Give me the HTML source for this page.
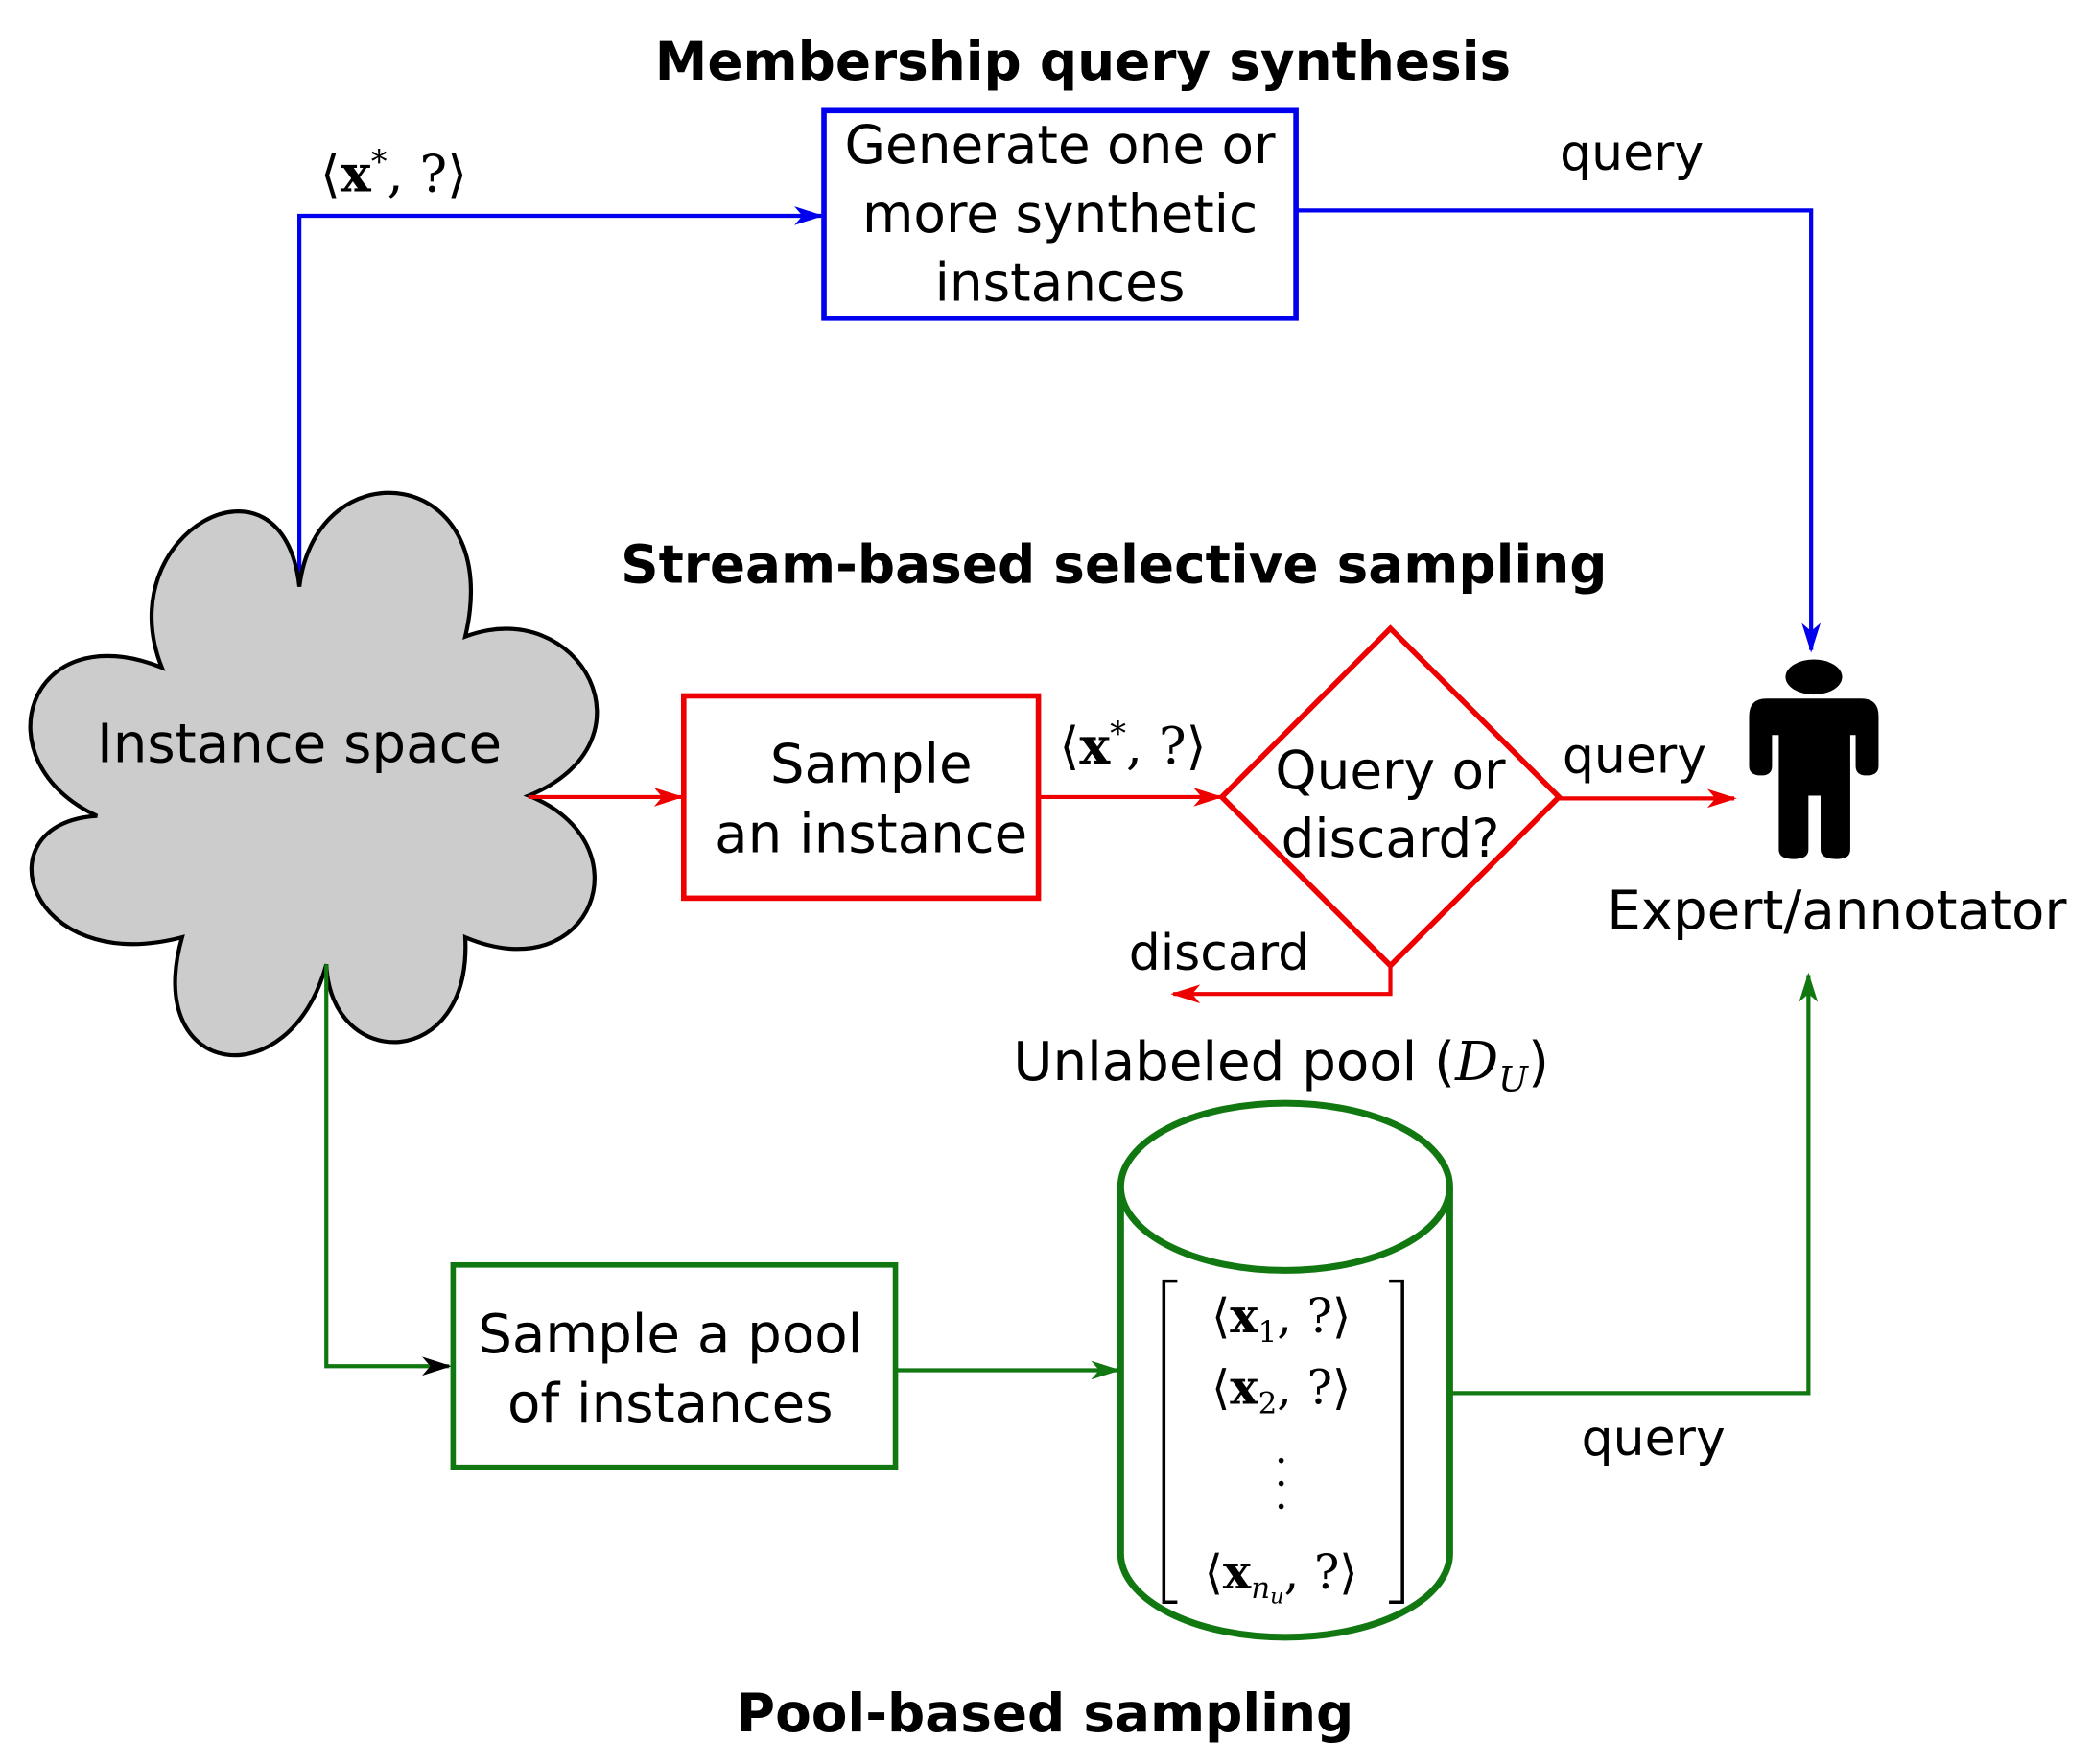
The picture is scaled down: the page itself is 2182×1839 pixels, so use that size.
<!DOCTYPE html>
<html><head><meta charset="utf-8"><style>html,body{margin:0;padding:0;background:#fff}svg{display:block}</style></head><body>
<svg width="2182" height="1839" viewBox="0 0 1552 1308" preserveAspectRatio="none" xmlns="http://www.w3.org/2000/svg">
<defs>
<marker id="ab" markerWidth="22" markerHeight="14" refX="20" refY="7" orient="auto" markerUnits="userSpaceOnUse" viewBox="0 0 22 14"><path d="M0,0 L22,7 L0,14 L6,7 Z" fill="#0000ee"/></marker>
<marker id="ar" markerWidth="22" markerHeight="14" refX="20" refY="7" orient="auto" markerUnits="userSpaceOnUse" viewBox="0 0 22 14"><path d="M0,0 L22,7 L0,14 L6,7 Z" fill="#ee0000"/></marker>
<marker id="ag" markerWidth="22" markerHeight="14" refX="20" refY="7" orient="auto" markerUnits="userSpaceOnUse" viewBox="0 0 22 14"><path d="M0,0 L22,7 L0,14 L6,7 Z" fill="#117711"/></marker>
<marker id="ak" markerWidth="22" markerHeight="14" refX="20" refY="7" orient="auto" markerUnits="userSpaceOnUse" viewBox="0 0 22 14"><path d="M0,0 L22,7 L0,14 L6,7 Z" fill="#000"/></marker>
</defs>
<g font-family="'DejaVu Sans', sans-serif" text-anchor="middle" fill="#000">
<text x="803" y="59" font-size="39" font-weight="bold">Membership query synthesis</text>
<text x="826" y="432" font-size="39" font-weight="bold">Stream-based selective sampling</text>
<text x="775" y="1284" font-size="39" font-weight="bold">Pool-based sampling</text>

<!-- blue -->
<rect x="611" y="82" width="350" height="154" fill="none" stroke="#0000ee" stroke-width="4"/>
<text x="786" y="121" font-size="39">Generate one or</text>
<text x="786" y="172" font-size="39">more synthetic</text>
<text x="786" y="223" font-size="39">instances</text>
<polyline points="222,435 222,160 609,160" fill="none" stroke="#0000ee" stroke-width="3" marker-end="url(#ab)"/>
<polyline points="961,156 1343,156 1343,482" fill="none" stroke="#0000ee" stroke-width="3" marker-end="url(#ab)"/>
<text x="1210" y="126" font-size="37">query</text>
<text x="292" y="142" font-size="38" font-family="'DejaVu Serif', serif">⟨<tspan font-weight="bold">x</tspan><tspan font-size="24" dy="-14">*</tspan><tspan dy="14">, ?⟩</tspan></text>

<!-- cloud -->
<path d="M222,435 C235,330 375,345 345,472 C430,440 490,550 392,590 C480,625 440,735 345,695 C350,795 245,795 242,715 C215,815 105,800 135,695 C20,725 -15,610 72,605 C-15,565 20,455 120,495 C80,395 210,325 222,435 Z" fill="#cccccc" stroke="#000" stroke-width="3"/>
<text x="222" y="565" font-size="40">Instance space</text>

<!-- red -->
<line x1="392" y1="591" x2="505" y2="591" stroke="#ee0000" stroke-width="3" marker-end="url(#ar)"/>
<rect x="507" y="516" width="263" height="150" fill="none" stroke="#ee0000" stroke-width="4"/>
<text x="646" y="580" font-size="40">Sample</text>
<text x="646" y="632" font-size="40">an instance</text>
<line x1="770" y1="591" x2="905" y2="591" stroke="#ee0000" stroke-width="3" marker-end="url(#ar)"/>
<text x="840" y="566" font-size="38" font-family="'DejaVu Serif', serif">⟨<tspan font-weight="bold">x</tspan><tspan font-size="24" dy="-14">*</tspan><tspan dy="14">, ?⟩</tspan></text>
<polygon points="1031,466 1156,591 1031,716 906,591" fill="none" stroke="#ee0000" stroke-width="4"/>
<text x="1031" y="585" font-size="39">Query or</text>
<text x="1031" y="635" font-size="39">discard?</text>
<line x1="1156" y1="592" x2="1286" y2="592" stroke="#ee0000" stroke-width="3" marker-end="url(#ar)"/>
<text x="1212" y="573" font-size="37">query</text>
<polyline points="1031,716 1031,737 870,737" fill="none" stroke="#ee0000" stroke-width="3" marker-end="url(#ar)"/>
<text x="904" y="719" font-size="37">discard</text>

<!-- person -->
<ellipse cx="1345" cy="502" rx="21" ry="13" fill="#000"/>
<path d="M1310,518 H1380 Q1393,518 1393,531 V568 Q1393,575 1384,575 Q1376,575 1376,568 V545 H1372 V630 Q1372,637 1362,637 Q1350,637 1350,630 V590 H1341 V630 Q1341,637 1330,637 Q1319,637 1319,630 V545 H1314 V568 Q1314,575 1306,575 Q1297,575 1297,568 V531 Q1297,518 1310,518 Z" fill="#000"/>
<text x="1362" y="689" font-size="40">Expert/annotator</text>

<text x="950" y="801" font-size="40">Unlabeled pool (<tspan font-family="'DejaVu Serif', serif" font-style="italic">D</tspan><tspan font-family="'DejaVu Serif', serif" font-style="italic" font-size="26" dy="8">U</tspan><tspan dy="-8">)</tspan></text>

<!-- cylinder -->
<path d="M831,880 V1152 A122,62 0 0 0 1075,1152 V880" fill="#fff" stroke="#117711" stroke-width="5"/>
<ellipse cx="953" cy="880" rx="122" ry="62" fill="#fff" stroke="#117711" stroke-width="5"/>
<path d="M873,950 H863 V1188 H873 M1030,950 H1040 V1188 H1030" fill="none" stroke="#000" stroke-width="2.5"/>
<g font-family="'DejaVu Serif', serif" font-size="35">
<text x="950" y="988">⟨<tspan font-weight="bold">x</tspan><tspan font-size="22" dy="7">1</tspan><tspan dy="-7">, ?⟩</tspan></text>
<text x="950" y="1041">⟨<tspan font-weight="bold">x</tspan><tspan font-size="22" dy="7">2</tspan><tspan dy="-7">, ?⟩</tspan></text>
<text x="950" y="1178">⟨<tspan font-weight="bold">x</tspan><tspan font-size="22" font-style="italic" dy="7">n<tspan font-size="16" dy="4">u</tspan></tspan><tspan dy="-11">, ?⟩</tspan></text>
</g>
<circle cx="950" cy="1083" r="2" fill="#000"/><circle cx="950" cy="1100" r="2" fill="#000"/><circle cx="950" cy="1117" r="2" fill="#000"/>

<!-- green -->
<polyline points="242,715 242,1013 333,1013" fill="none" stroke="#117711" stroke-width="3" marker-end="url(#ak)"/>
<rect x="336" y="938" width="328" height="150" fill="none" stroke="#117711" stroke-width="4"/>
<text x="497" y="1003" font-size="40">Sample a pool</text>
<text x="497" y="1054" font-size="40">of instances</text>
<line x1="664" y1="1016" x2="829" y2="1016" stroke="#117711" stroke-width="3" marker-end="url(#ag)"/>
<polyline points="1076,1033 1341,1033 1341,723" fill="none" stroke="#117711" stroke-width="3" marker-end="url(#ag)"/>
<text x="1226" y="1079" font-size="37">query</text>
</g>
</svg>
</body></html>
